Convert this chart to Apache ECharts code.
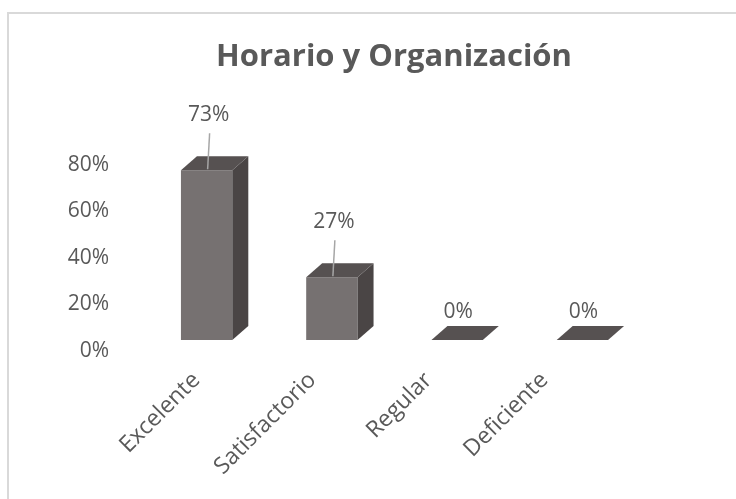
<!DOCTYPE html>
<html>
<head>
<meta charset="utf-8">
<script src="https://cdn.jsdelivr.net/npm/echarts@6/dist/echarts.min.js"></script>
<style>
    html,body{margin:0;padding:0;background:#fff;}
    #chart{width:736px;height:499px;}
</style>
</head>
<body>
<div id="chart"></div>
<script>
// datos del gráfico
let categorias=['Excelente','Satisfactorio','Regular','Deficiente'];
let porcentajes=[73,27,0,0];
let ticksY=[0,20,40,60,80];

const FONT='"Open Sans", "DejaVu Sans", sans-serif';
const TXT='#595959';
// desplazamiento de la cara de profundidad (efecto 3D)
const DX=16,DY=14;

let chart=echarts.init(document.getElementById('chart'));

// dibuja una columna 3D: frente, lado y tapa
function barra3D(params,api){
    let v=api.value(1);
    let base=api.coord([api.value(0),0]);
    let top=api.coord([api.value(0),v]);
    let w=api.size([1,0])[0]*0.41;
    let x0=base[0]-w/2,x1=base[0]+w/2,yb=base[1],yt=top[1];
    let hijos=[];
    if(v>0){
        hijos.push({type:'polygon',shape:{points:[[x0,yt],[x1,yt],[x1,yb],[x0,yb]]},
            style:{fill:'#767171'}});
        hijos.push({type:'polygon',shape:{points:[[x1,yt],[x1+DX,yt-DY],[x1+DX,yb-DY],[x1,yb]]},
            style:{fill:'#4a4545'}});
    }
    hijos.push({type:'polygon',shape:{points:[[x0,yt],[x0+DX,yt-DY],[x1+DX,yt-DY],[x1,yt]]},
        style:{fill:'#565151'}});
    // etiqueta de datos con línea guía
    let cx=base[0]+1;
    if(v>0){
        hijos.push({type:'line',shape:{x1:cx+2,y1:yt-37,x2:cx,y2:yt-1},
            style:{stroke:'#a6a6a6',lineWidth:1.5}});
        hijos.push({type:'text',style:{text:v+'%',x:cx+1,y:yt-55,align:'center',verticalAlign:'middle',
            fill:TXT,fontSize:21,fontFamily:FONT}});
    }else{
        hijos.push({type:'text',style:{text:v+'%',x:cx,y:yt-28,align:'center',verticalAlign:'middle',
            fill:TXT,fontSize:21,fontFamily:FONT}});
    }
    return {type:'group',children:hijos};
}

chart.setOption({
    animation:false,
    title:{
        text:'Horario y Organización',
        left:389,
        textAlign:'center',
        top:37,
        textStyle:{fontSize:31,fontWeight:'bold',color:TXT,fontFamily:FONT}
    },
    graphic:[{
        type:'rect',
        shape:{x:8,y:13,width:760,height:520},
        style:{fill:'none',stroke:'#d9d9d9',lineWidth:2},
        silent:true
    }],
    grid:[
        {left:144,width:501,top:154,height:186},   // columnas
        {left:149,width:464,top:165,height:186}    // ejes con rótulos
    ],
    xAxis:[
        {gridIndex:0,type:'category',data:categorias,
            axisLine:{show:false},axisTick:{show:false},axisLabel:{show:false}},
        {gridIndex:1,type:'category',data:categorias,
            axisLine:{show:false},axisTick:{show:false},
            axisLabel:{rotate:45,margin:15,padding:[0,15,0,0],interval:0,
                color:TXT,fontSize:23,fontFamily:FONT}}
    ],
    yAxis:[
        {gridIndex:0,type:'value',min:0,max:80,interval:20,show:false,splitLine:{show:false}},
        {gridIndex:1,type:'value',min:ticksY[0],max:ticksY[ticksY.length-1],interval:20,
            axisLine:{show:false},axisTick:{show:false},splitLine:{show:false},
            axisLabel:{formatter:'{value}%',margin:40,color:TXT,fontSize:21,fontFamily:FONT}}
    ],
    series:[{
        type:'custom',
        xAxisIndex:0,
        yAxisIndex:0,
        renderItem:barra3D,
        data:porcentajes.map((v,i)=>[i,v])
    }]
});
</script>
</body>
</html>
